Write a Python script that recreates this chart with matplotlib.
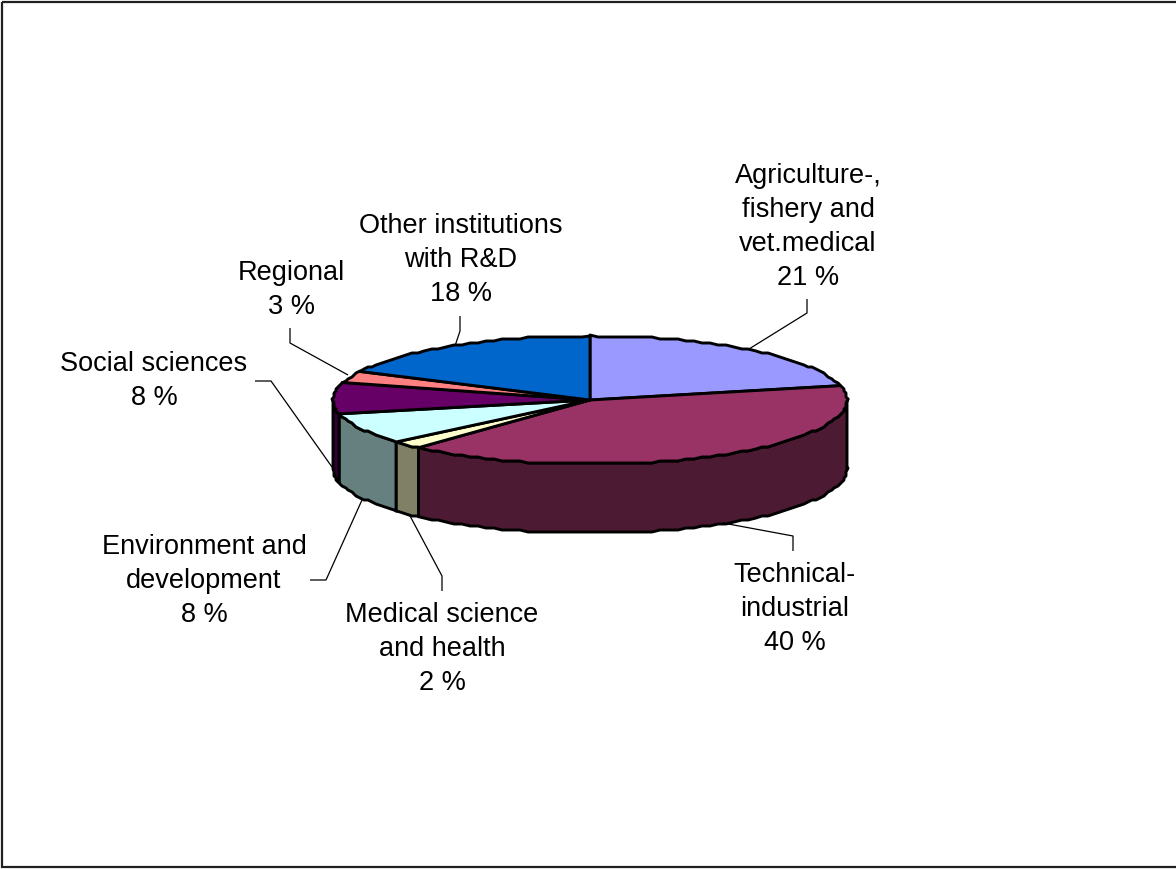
import numpy as np
import matplotlib
matplotlib.use("Agg")
import matplotlib.pyplot as plt
from matplotlib.patches import Polygon, Rectangle

# DATA
labels = [
    "Agriculture-,\nfishery and\nvet.medical\n21 %",
    "Technical-\nindustrial\n40 %",
    "Medical science\nand health\n2 %",
    "Environment and\ndevelopment\n8 %",
    "Social sciences\n8 %",
    "Regional\n3 %",
    "Other institutions\nwith R&D\n18 %",
]
values = [21, 40, 2, 8, 8, 3, 18]
colors = ["#9999FF", "#993366", "#FFFFCC", "#CCFFFF", "#660066", "#FF8080", "#0066CC"]
label_pos = [(808, 227), (795, 609), (442, 649), (204, 581), (154, 381), (291, 290), (461, 260)]
leaders = [
    [(749, 350), (807, 314), (807, 300)],
    [(723, 524), (793, 537), (793, 552)],
    [(409, 515), (442, 577), (442, 592)],
    [(362, 501), (326, 581), (310, 581)],
    [(332, 468), (271, 382), (255, 382)],
    [(348, 376), (290, 344), (290, 329)],
    [(455, 347), (460, 332), (460, 317)],
]

# pie geometry in pixels
cx, cy = 590, 401
rx, ry = 257, 64
depth = 69

plt.rcParams["font.family"] = "Liberation Sans"

fig = plt.figure(figsize=(11.76, 8.7), dpi=100)
ax = fig.add_axes([0, 0, 1, 1])
ax.set_xlim(0, 1176)
ax.set_ylim(870, 0)
ax.axis("off")

# outer border
ax.add_patch(Rectangle((2, 3), 1180, 865, fill=False, ec="#202020", lw=1.6))


def skew(a):
    # the tilted view pushes the left-hand slices round a little
    return a + 2.4 * np.sin(np.radians(a) / 2)


def arc(a0, a1, dy=0):
    # small steps snapped to a 2 px grid give the slightly rough outline
    inner = np.arange(np.ceil(a0 / 2) * 2, a1, 2.0)
    t = np.radians(np.concatenate([[a0], inner, [a1]]))
    pts = np.column_stack([cx + rx * np.sin(t), cy - ry * np.cos(t)])
    pts[1:-1] = np.round(pts[1:-1] / 2) * 2
    pts[:, 1] += dy
    return pts


edges = skew(np.cumsum([0] + values) / sum(values) * 360)

# side walls for the front half of the pie
for i, c in enumerate(colors):
    a0, a1 = max(edges[i], 90), min(edges[i + 1], 270)
    if a1 <= a0:
        continue
    shade = tuple(0.5 * v for v in matplotlib.colors.to_rgb(c))
    pts = np.vstack([arc(a0, a1), arc(a0, a1, depth)[::-1]])
    ax.add_patch(Polygon(pts, fc=shade, ec="black", lw=2.1, joinstyle="round"))

# top slices
for i, c in enumerate(colors):
    pts = np.vstack([[(cx, cy)], arc(edges[i], edges[i + 1])])
    ax.add_patch(Polygon(pts, fc=c, ec="black", lw=2.1, joinstyle="round"))

for line in leaders:
    xs, ys = zip(*line)
    ax.plot(xs, ys, color="black", lw=0.9, solid_capstyle="butt")

for text, (x, y) in zip(labels, label_pos):
    ax.text(x, y, text, ha="center", va="center", fontsize=19.5, linespacing=1.39, color="black")

fig.savefig("out.png", dpi=100)
plt.close(fig)
